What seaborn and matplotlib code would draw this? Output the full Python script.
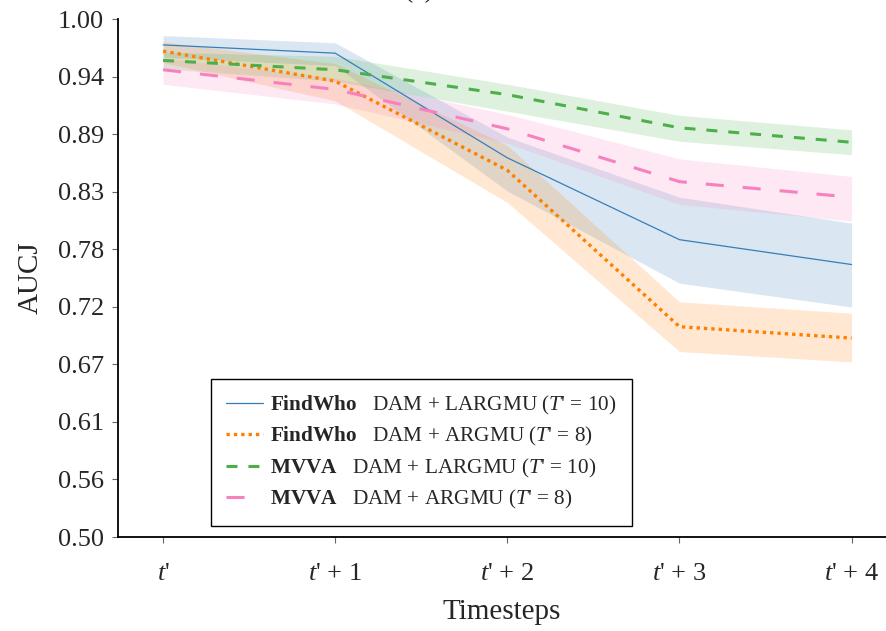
import matplotlib
matplotlib.use("Agg")
import matplotlib.pyplot as plt
import seaborn as sns
import pandas as pd

# Timesteps on the x axis
steps = [0, 1, 2, 3, 4]
step_labels = ["$t$'", "$t$' + 1", "$t$' + 2", "$t$' + 3", "$t$' + 4"]

# AUCJ means with lower / upper band edges for each setting
findwho_largmu = [0.975, 0.967, 0.866, 0.787, 0.763]
findwho_largmu_lo = [0.963, 0.955, 0.834, 0.745, 0.722]
findwho_largmu_hi = [0.984, 0.977, 0.886, 0.828, 0.803]

findwho_argmu = [0.969, 0.940, 0.854, 0.703, 0.692]
findwho_argmu_lo = [0.958, 0.921, 0.823, 0.679, 0.669]
findwho_argmu_hi = [0.978, 0.957, 0.878, 0.727, 0.716]

mvva_largmu = [0.960, 0.951, 0.927, 0.895, 0.881]
mvva_largmu_lo = [0.952, 0.940, 0.911, 0.882, 0.869]
mvva_largmu_hi = [0.968, 0.964, 0.937, 0.907, 0.893]

mvva_argmu = [0.951, 0.932, 0.894, 0.843, 0.828]
mvva_argmu_lo = [0.937, 0.918, 0.880, 0.821, 0.805]
mvva_argmu_hi = [0.962, 0.943, 0.908, 0.865, 0.848]

labels = [
    r"$\mathbf{FindWho}$   DAM + LARGMU ($T$' = 10)",
    r"$\mathbf{FindWho}$   DAM + ARGMU ($T$' = 8)",
    r"$\mathbf{MVVA}$   DAM + LARGMU ($T$' = 10)",
    r"$\mathbf{MVVA}$   DAM + ARGMU ($T$' = 8)",
]

sns.set_theme(style="ticks")
plt.rcParams["font.family"] = ["Liberation Serif", "DejaVu Serif"]
plt.rcParams["mathtext.fontset"] = "custom"
plt.rcParams["mathtext.rm"] = "Liberation Serif"
plt.rcParams["mathtext.it"] = "Liberation Serif:italic"
plt.rcParams["mathtext.bf"] = "Liberation Serif:bold"
plt.rcParams["lines.scale_dashes"] = False

colors = ["#377eb8", "#ff7f00", "#4daf4a", "#f781bf"]
widths = [0.9, 2.4, 2.2, 2.2]
styles = ["-", (0, (2.4, 2.9)), (0, (7.9, 7.9)), (0, (13.0, 13.7))]

series = [
    (findwho_largmu, findwho_largmu_lo, findwho_largmu_hi),
    (findwho_argmu, findwho_argmu_lo, findwho_argmu_hi),
    (mvva_largmu, mvva_largmu_lo, mvva_largmu_hi),
    (mvva_argmu, mvva_argmu_lo, mvva_argmu_hi),
]

fig = plt.figure(figsize=(8.86, 6.31), dpi=100)
ax = fig.add_axes([118 / 886, 94 / 631, 768 / 886, 518 / 631])

for (mean, lo, hi), lab, c, lw, ls in zip(series, labels, colors, widths, styles):
    df = pd.DataFrame({"step": steps, "auc": mean})
    ax.fill_between(steps, lo, hi, color=c, alpha=0.18, linewidth=0)
    sns.lineplot(data=df, x="step", y="auc", ax=ax, color=c, linewidth=lw,
                 linestyle=ls, label=lab, errorbar=None)

ax.set_xlim(-0.262, 4.2)
ax.set_ylim(0.5, 1.0)
yt = [0.5 + i * 0.5 / 9 for i in range(10)]
ax.set_yticks(yt)
ax.set_yticklabels([f"{v:.2f}" for v in yt])
ax.set_xticks(steps)
ax.set_xticklabels(step_labels)
ax.tick_params(axis="both", labelsize=19, length=4, width=0.8, color="#666666",
               pad=6)
ax.tick_params(axis="x", pad=15)
for s in ["top", "right"]:
    ax.spines[s].set_visible(False)
for s in ["left", "bottom"]:
    ax.spines[s].set_color("black")
    ax.spines[s].set_linewidth(1.3)

ax.set_xlabel("Timesteps", fontsize=21, labelpad=10)
ax.set_ylabel("AUCJ", fontsize=21, labelpad=10)

leg = ax.legend(loc="lower left", bbox_to_anchor=(0.121, 0.021), borderaxespad=0,
                fontsize=15.3, frameon=True, fancybox=False, framealpha=1,
                edgecolor="black", handlelength=1.75, handletextpad=0.35,
                labelspacing=0.4, borderpad=0.7)
leg.get_frame().set_linewidth(1.0)

fig.text(419 / 886, 1 - 3 / 631, "(a)", ha="center", va="bottom", fontsize=20)

fig.savefig("out.png", dpi=100)
